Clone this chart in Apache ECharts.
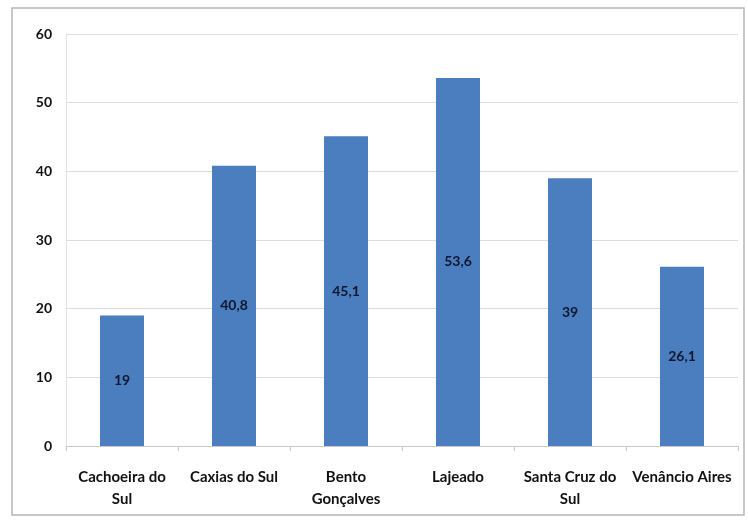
<!DOCTYPE html>
<html>
<head>
<meta charset="utf-8">
<script src="https://cdn.jsdelivr.net/npm/echarts@6/dist/echarts.min.js"></script>
<style>
  html, body { margin: 0; padding: 0; background: #ffffff; }
  #chart { width: 748px; height: 523px; }
</style>
</head>
<body>
<div id="chart"></div>
<script>
// Municipalities and their values
const categories = [
  'Cachoeira do\nSul',
  'Caxias do Sul',
  'Bento\nGonçalves',
  'Lajeado',
  'Santa Cruz do\nSul',
  'Venâncio Aires'
];
const values = [19, 40.8, 45.1, 53.6, 39, 26.1];
const yTicks = { min: 0, max: 60, interval: 10 };

const fontFamily = 'Lato, "Open Sans", sans-serif';

const chart = echarts.init(document.getElementById('chart'), null, { renderer: 'canvas' });

chart.setOption({
  backgroundColor: '#ffffff',
  animation: false,
  graphic: [{
    type: 'rect',
    shape: { x: 12, y: 8, width: 732, height: 507 },
    style: { fill: 'none', stroke: '#b5b5b5', lineWidth: 1.5 },
    silent: true
  }],
  grid: { left: 66, right: 10, top: 34, bottom: 77 },
  xAxis: {
    type: 'category',
    data: categories,
    axisLine: { lineStyle: { color: '#c8c8c8', width: 1 } },
    axisTick: { show: true, alignWithLabel: false, length: 5, lineStyle: { color: '#c8c8c8' } },
    axisLabel: {
      interval: 0,
      margin: 20,
      color: '#111111',
      fontFamily: fontFamily,
      fontWeight: 'bold',
      fontSize: 15,
      lineHeight: 22
    }
  },
  yAxis: {
    type: 'value',
    min: yTicks.min,
    max: yTicks.max,
    interval: yTicks.interval,
    axisLine: { show: true, lineStyle: { color: '#e2e2e2', width: 1 } },
    axisTick: { show: false },
    splitLine: { lineStyle: { color: '#dcdcdc', width: 1 } },
    axisLabel: {
      margin: 14,
      color: '#111111',
      fontFamily: fontFamily,
      fontWeight: 'bold',
      fontSize: 14
    }
  },
  series: [{
    type: 'bar',
    data: values,
    barWidth: 44,
    itemStyle: { color: '#4a7ebf' },
    label: {
      show: true,
      position: 'inside',
      color: '#10162e',
      fontFamily: fontFamily,
      fontWeight: 'bold',
      fontSize: 14,
      formatter: p => String(p.value).replace('.', ',')
    }
  }]
});
</script>
</body>
</html>
